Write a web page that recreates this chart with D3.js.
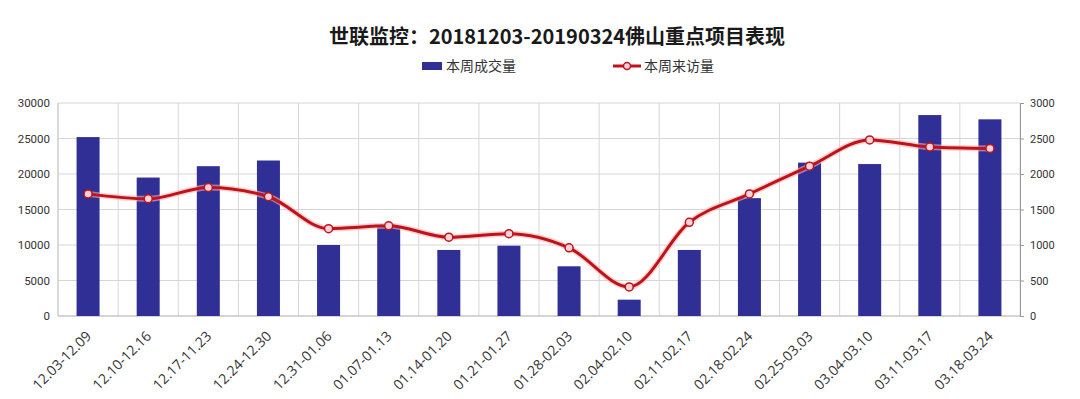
<!DOCTYPE html>
<html><head><meta charset="utf-8">
<script src="https://cdn.jsdelivr.net/npm/d3@7"></script>
<style>body{margin:0;background:#fff;}svg{display:block;font-family:"Noto Sans CJK SC","Noto Sans",sans-serif;}</style>
</head><body>
<svg id="c" width="1080" height="399"></svg>
<script>
const categories = ["12.03-12.09","12.10-12.16","12.17-11.23","12.24-12.30","12.31-01.06","01.07-01.13","01.14-01.20","01.21-01.27","01.28-02.03","02.04-02.10","02.11-02.17","02.18-02.24","02.25-03.03","03.04-03.10","03.11-03.17","03.18-03.24"];
const deals = [25200,19500,21100,21900,10000,12600,9300,9900,7000,2300,9300,16600,21600,21400,28300,27700];
const visits = [1720,1650,1810,1680,1230,1270,1110,1160,960,410,1320,1720,2110,2480,2380,2360];
const leftTicks = [0,5000,10000,15000,20000,25000,30000];
const rightTicks = [0,500,1000,1500,2000,2500,3000];
const title = "世联监控：20181203-20190324佛山重点项目表现";
const seriesNames = ["本周成交量","本周来访量"];

const svg = d3.select("#c");
const L = 58, R = 1020, T = 103, B = 316;
const x = d3.scaleBand().domain(categories).range([L, R]).padding(0);
const yL = d3.scaleLinear().domain([0,30000]).range([B, T]);
const yR = d3.scaleLinear().domain([0,3000]).range([B, T]);
const barColor = "#302f96", lineColor = "#c0121a";

// grid
const g = svg.append("g");
g.selectAll("line.h").data(leftTicks).join("line")
  .attr("x1", L).attr("x2", R).attr("y1", d=>yL(d)).attr("y2", d=>yL(d))
  .attr("stroke", "#d6d6d6").attr("stroke-width", 1);
const bounds = categories.map(c=>x(c)).concat([R]);
g.selectAll("line.v").data(bounds).join("line")
  .attr("x1", d=>d).attr("x2", d=>d).attr("y1", T).attr("y2", B)
  .attr("stroke", "#d6d6d6").attr("stroke-width", 1);
g.append("line").attr("x1", L).attr("x2", L).attr("y1", T).attr("y2", B).attr("stroke","#c8c8c8");
g.append("line").attr("x1", L).attr("x2", R).attr("y1", B).attr("y2", B).attr("stroke","#bdbdbd");

// bars
const bw = 23;
svg.append("g").selectAll("rect").data(deals).join("rect")
  .attr("x", (d,i)=>x(categories[i]) + x.bandwidth()/2 - bw/2)
  .attr("width", bw)
  .attr("y", d=>yL(d)).attr("height", d=>B - yL(d))
  .attr("fill", barColor);

// left axis
const la = svg.append("g").attr("transform", `translate(${L},0)`)
  .call(d3.axisLeft(yL).tickValues(leftTicks).tickSize(0).tickPadding(8).tickFormat(d3.format("d")));
la.select(".domain").remove();
la.selectAll("text").attr("font-size", 11.5).attr("fill", "#333").attr("font-family","Roboto, 'Noto Sans', sans-serif");

// right axis
const ra = svg.append("g").attr("transform", `translate(${R},0)`)
  .call(d3.axisRight(yR).tickValues(rightTicks).tickSize(4).tickPadding(6).tickFormat(d3.format("d")));
ra.select(".domain").attr("stroke", "#999");
ra.selectAll(".tick line").attr("stroke", "#999");
ra.selectAll("text").attr("font-size", 11).attr("fill", "#333").attr("font-family","Roboto, 'Noto Sans', sans-serif");

// x labels
svg.append("g").selectAll("text").data(categories).join("text")
  .attr("transform", d=>`translate(${x(d)+x.bandwidth()/2+4},${B+21}) rotate(-45)`)
  .attr("text-anchor", "end").attr("font-size", 14).attr("fill", "#333")
  .attr("font-family","'Open Sans', 'Noto Sans', sans-serif")
  .text(d=>d);

// line
const line = d3.line().x((d,i)=>x(categories[i])+x.bandwidth()/2).y(d=>yR(d)).curve(d3.curveMonotoneX);
svg.append("path").datum(visits).attr("d", line).attr("fill","none")
  .attr("stroke", "#f4b6b6").attr("stroke-width", 6).attr("stroke-opacity", 0.6);
svg.append("path").datum(visits).attr("d", line).attr("fill","none")
  .attr("stroke", lineColor).attr("stroke-width", 3);
svg.append("g").selectAll("circle").data(visits).join("circle")
  .attr("cx", (d,i)=>x(categories[i])+x.bandwidth()/2).attr("cy", d=>yR(d))
  .attr("r", 4).attr("fill", "#fbd3d8").attr("stroke", lineColor).attr("stroke-width", 1.5);

// title
svg.append("text").attr("x", 557).attr("y", 44).attr("text-anchor","middle")
  .attr("font-size", 20).attr("font-weight", "bold").attr("fill","#1a1a1a").text(title);

// legend
svg.append("rect").attr("x", 422).attr("y", 62).attr("width", 20).attr("height", 8).attr("fill", barColor);
svg.append("text").attr("x", 446).attr("y", 71).attr("font-size", 14).attr("fill","#333").text(seriesNames[0]);
svg.append("line").attr("x1", 613).attr("x2", 641).attr("y1", 66).attr("y2", 66).attr("stroke", lineColor).attr("stroke-width", 3);
svg.append("circle").attr("cx", 627).attr("cy", 66).attr("r", 3.5).attr("fill","#fbd3d8").attr("stroke", lineColor).attr("stroke-width",1.5);
svg.append("text").attr("x", 644).attr("y", 71).attr("font-size", 14).attr("fill","#333").text(seriesNames[1]);
</script>
</body></html>
